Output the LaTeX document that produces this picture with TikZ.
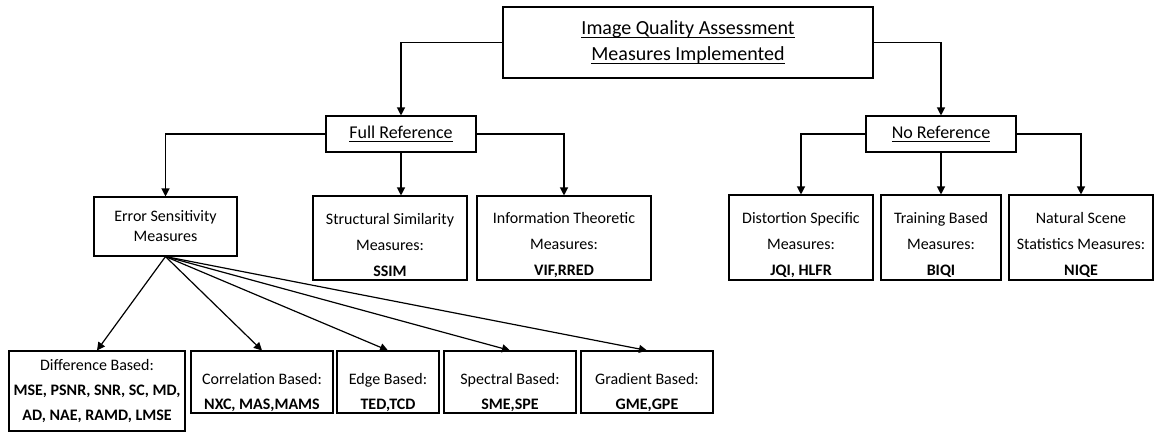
\documentclass[tikz,border=0pt]{standalone}
\usepackage{fontspec}
\setmainfont{Carlito}
\usepackage{tikz}
\usetikzlibrary{arrows.meta}
\newcommand{\undl}[1]{\setbox0\hbox{#1}\rlap{\copy0}\raisebox{-3.5pt}{\rule{\wd0}{1.4pt}}}
\newcommand{\lowstrut}[1]{\rule{0pt}{#1}}
\def\drawarrow{\draw[iqaline, -{Triangle[length=8pt,width=8pt]}]}
\tikzset{
  iqabox/.style={draw=black, line width=1.1pt, align=center, inner sep=0pt, font=\fontsize{16}{20}\selectfont},
  iqaline/.style={line width=1.2pt},
}

\begin{document}
\begin{tikzpicture}[x=1pt,y=-1pt]
\useasboundingbox (0,0) rectangle (1157,432);

% ---------- root
\node[iqabox, minimum width=370pt, minimum height=71pt, font=\fontsize{20}{26}\selectfont] (iqa) at (688,42.5) {\undl{Image Quality Assessment}\\\undl{Measures Implemented}};

% ---------- the two families
\node[iqabox, minimum width=150pt, minimum height=36pt, font=\fontsize{18}{22}\selectfont] (fullref) at (401,134) {\undl{Full Reference}};
\node[iqabox, minimum width=150pt, minimum height=36pt, font=\fontsize{18}{22}\selectfont] (noref) at (941,134) {\undl{No Reference}};

% ---------- full reference classes
\node[iqabox, minimum width=143pt, minimum height=59pt] (err) at (165.5,226.5) {Error Sensitivity\\Measures};
\node[iqabox, minimum width=154pt, minimum height=84pt, font=\fontsize{16}{26}\selectfont] (ssim) at (390,238) {\lowstrut{26pt}Structural Similarity\\Measures:\\\textbf{SSIM}};
\node[iqabox, minimum width=174pt, minimum height=84pt, font=\fontsize{16}{26}\selectfont] (info) at (564,238) {\lowstrut{26pt}Information Theoretic\\Measures:\\\textbf{VIF,RRED}};

% ---------- no reference classes
\node[iqabox, minimum width=144pt, minimum height=85pt, font=\fontsize{16}{26}\selectfont] (distort) at (801,237.5) {\lowstrut{26pt}Distortion Specific\\Measures:\\\textbf{JQI, HLFR}};
\node[iqabox, minimum width=120pt, minimum height=85pt, font=\fontsize{16}{26}\selectfont] (training) at (941,237.5) {\lowstrut{26pt}Training Based\\Measures:\\\textbf{BIQI}};
\node[iqabox, minimum width=144pt, minimum height=85pt, font=\fontsize{16}{26}\selectfont] (nss) at (1081,237.5) {\lowstrut{26pt}Natural Scene\\Statistics Measures:\\\textbf{NIQE}};

% ---------- error sensitivity leaves
\node[iqabox, minimum width=176pt, minimum height=80pt, font=\fontsize{16}{25}\selectfont] (diff) at (97,391) {Difference Based:\\\textbf{MSE, PSNR, SNR, SC, MD,}\\\textbf{AD, NAE, RAMD, LMSE}};
\node[iqabox, minimum width=142pt, minimum height=62pt, font=\fontsize{16}{25}\selectfont] (corr) at (262,382) {\lowstrut{32pt}Correlation Based:\\\textbf{NXC, MAS,MAMS}};
\node[iqabox, minimum width=102pt, minimum height=62pt, font=\fontsize{16}{25}\selectfont] (edge) at (388,382) {\lowstrut{32pt}Edge Based:\\\textbf{TED,TCD}};
\node[iqabox, minimum width=132pt, minimum height=62pt, font=\fontsize{16}{25}\selectfont] (spec) at (510,382) {\lowstrut{32pt}Spectral Based:\\\textbf{SME,SPE}};
\node[iqabox, minimum width=132pt, minimum height=62pt, font=\fontsize{16}{25}\selectfont] (grad) at (647,382) {\lowstrut{32pt}Gradient Based:\\\textbf{GME,GPE}};

% ---------- connectors
\drawarrow (iqa.west) -| (fullref.north);
\drawarrow (iqa.east) -| (noref.north);
\drawarrow (fullref.west) -| (err.north);
\drawarrow (fullref.south) -- (fullref.south |- ssim.north);
\drawarrow (fullref.east) -| (info.north);
\drawarrow (noref.west) -| (distort.north);
\drawarrow (noref.south) -- (training.north);
\drawarrow (noref.east) -| (nss.north);
% fan out of the error sensitivity box
\foreach \leaf in {diff,corr,edge,spec,grad}
  \drawarrow (err.south) -- (\leaf.north);
\end{tikzpicture}
\end{document}
